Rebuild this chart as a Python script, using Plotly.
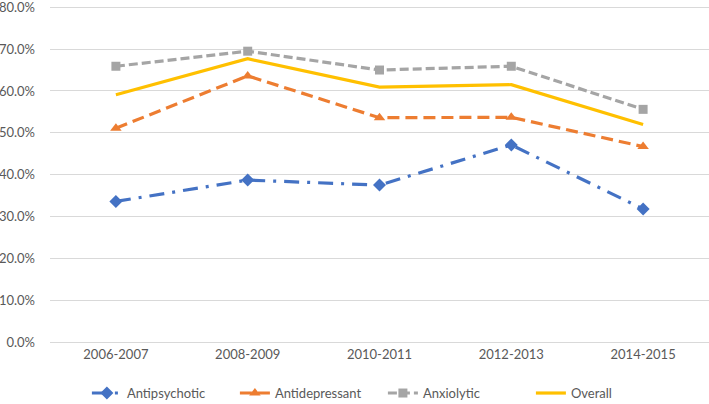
import plotly.graph_objects as go

categories = ["2006-2007", "2008-2009", "2010-2011", "2012-2013", "2014-2015"]
antipsychotic = [33.6, 38.7, 37.5, 47.1, 31.8]
antidepressant = [51.1, 63.6, 53.6, 53.7, 46.7]
anxiolytic = [65.9, 69.5, 65.0, 65.9, 55.6]
overall = [59.1, 67.7, 60.9, 61.5, 52.0]
y_ticks = [0, 10, 20, 30, 40, 50, 60, 70, 80]

font_family = "Lato, Open Sans, Liberation Sans, sans-serif"

fig = go.Figure()
fig.add_trace(go.Scatter(
    x=categories, y=antipsychotic, name="Antipsychotic", mode="lines+markers",
    line=dict(color="#4472C4", width=3.2, dash="15px,8px,3px,8px"),
    marker=dict(symbol="diamond", size=10, color="#4472C4"),
))
fig.add_trace(go.Scatter(
    x=categories, y=antidepressant, name="Antidepressant", mode="lines+markers",
    line=dict(color="#ED7D31", width=3.2, dash="12px,6px"),
    marker=dict(symbol="triangle-up", size=10, color="#ED7D31"),
))
fig.add_trace(go.Scatter(
    x=categories, y=anxiolytic, name="Anxiolytic", mode="lines+markers",
    line=dict(color="#A5A5A5", width=3.2, dash="9px,4px"),
    marker=dict(symbol="square", size=9, color="#A5A5A5"),
))
fig.add_trace(go.Scatter(
    x=categories, y=overall, name="Overall", mode="lines",
    line=dict(color="#FFC000", width=3.2),
))

fig.update_layout(
    width=709, height=404,
    margin=dict(l=50, r=0, t=6, b=62, autoexpand=False),
    paper_bgcolor="white", plot_bgcolor="white",
    font=dict(family=font_family, size=13, color="#595959"),
    showlegend=True,
    legend=dict(orientation="h", x=0.056, xanchor="left", y=-0.152, yanchor="middle",
                font=dict(size=13, color="#595959"),
                entrywidth=103, entrywidthmode="pixels",
                bgcolor="rgba(0,0,0,0)"),
    xaxis=dict(type="category", range=[-0.5, 4.5], showgrid=False, showline=False,
               ticks="", automargin=False, ticklabelstandoff=3,
               tickfont=dict(size=13, color="#595959")),
    yaxis=dict(range=[0, 80.3], tickvals=y_ticks, ticktext=[f"{v:.1f}%" for v in y_ticks],
               showgrid=True, gridcolor="#D9D9D9", gridwidth=1,
               zeroline=True, zerolinecolor="#D9D9D9", zerolinewidth=1,
               showline=False, ticks="", ticklabelstandoff=14, automargin=False,
               ticklabeloverflow="allow",
               tickfont=dict(size=13, color="#595959")),
)

fig.write_html("out.html", config={"displayModeBar": False},
               post_script="document.body.style.margin='0';document.body.style.overflow='hidden';")
